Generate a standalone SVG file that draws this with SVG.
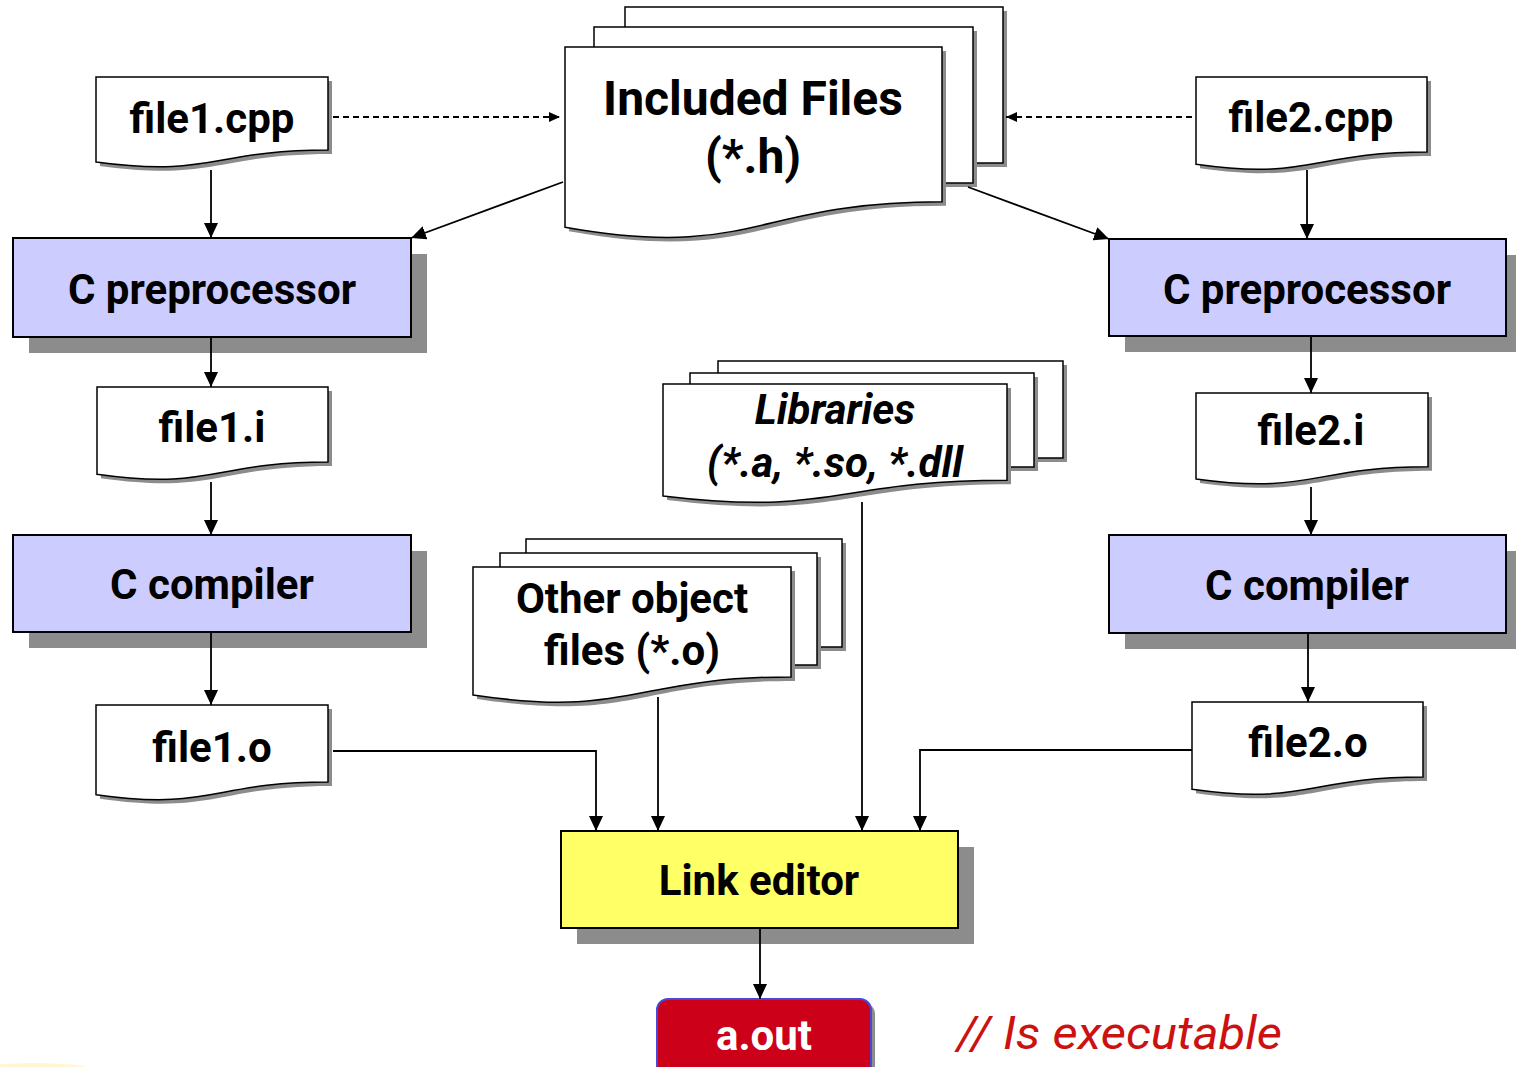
<svg xmlns="http://www.w3.org/2000/svg" width="1516" height="1067" viewBox="0 0 1516 1067">
<defs>
<style>
.doc{fill:#fff;stroke:#000;stroke-width:1.5}
.dsh{fill:#8c8c8c}
.box{stroke:#000;stroke-width:2}
.proc{fill:#ccccff}
.link{fill:#ffff66}
.bsh{fill:#8c8c8c}
.t{font-family:Roboto,"Liberation Sans",sans-serif;font-weight:bold;font-size:42px;fill:#000;text-anchor:middle}
.big{font-size:48px}
.it{font-style:italic}
.c{fill:none;stroke:#000;stroke-width:1.8}
.dash{stroke-dasharray:6 4}
</style>
<marker id="ah" markerUnits="userSpaceOnUse" markerWidth="16" markerHeight="14" refX="15" refY="7" orient="auto">
<path d="M0,0 L15,7 L0,14 Z" fill="#000"/>
</marker>
<marker id="as" markerUnits="userSpaceOnUse" markerWidth="12" markerHeight="10" refX="11" refY="5" orient="auto">
<path d="M0,0 L11,5 L0,10 Z" fill="#000"/>
</marker>
</defs>
<rect width="1516" height="1067" fill="#fff"/>
<ellipse cx="35" cy="1072" rx="65" ry="9" fill="#fff4cc" opacity="0.8"/>

<g id="file1cpp">
<path class="dsh" d="M100,81 H332 V154 C216,154 216,181.7 100,166 Z"/>
<path class="doc" d="M96,77 H328 V150 C212,150 212,177.7 96,162 Z"/>
<text class="t" x="212" y="133">file1.cpp</text>
</g>

<g id="file2cpp">
<path class="dsh" d="M1200,81 H1431 V156 C1315.5,156 1315.5,184.5 1200,168.3 Z"/>
<path class="doc" d="M1196,77 H1427 V152 C1311.5,152 1311.5,180.5 1196,164.3 Z"/>
<text class="t" x="1311" y="132">file2.cpp</text>
</g>

<g id="included">
<rect class="dsh" x="629" y="11" width="378" height="156"/>
<rect class="doc" x="625" y="7" width="378" height="156"/>
<rect class="dsh" x="598" y="31" width="379" height="156"/>
<rect class="doc" x="594" y="27" width="379" height="156"/>
<path class="dsh" d="M569,51 H946 V205.8 C757.5,205.8 757.5,264.7 569,231.3 Z"/>
<path class="doc" d="M565,47 H942 V201.8 C753.5,201.8 753.5,260.7 565,227.3 Z"/>
<text class="t big" x="753" y="115">Included Files</text>
<text class="t big" x="753" y="173">(*.h)</text>
</g>

<g id="cpp1">
<rect class="bsh" x="29" y="254" width="398" height="99"/>
<rect class="box proc" x="13" y="238" width="398" height="99"/>
<text class="t" x="212" y="304">C preprocessor</text>
</g>

<g id="cpp2">
<rect class="bsh" x="1125" y="255" width="397" height="97"/>
<rect class="box proc" x="1109" y="239" width="397" height="97"/>
<text class="t" x="1307" y="304">C preprocessor</text>
</g>

<g id="file1i">
<path class="dsh" d="M101,391 H332 V466 C216.5,466 216.5,494.5 101,478.3 Z"/>
<path class="doc" d="M97,387 H328 V462 C212.5,462 212.5,490.5 97,474.3 Z"/>
<text class="t" x="212" y="442">file1.i</text>
</g>

<g id="file2i">
<path class="dsh" d="M1200,397 H1432 V470.8 C1316,470.8 1316,498.8 1200,482.9 Z"/>
<path class="doc" d="M1196,393 H1428 V466.8 C1312,466.8 1312,494.8 1196,478.9 Z"/>
<text class="t" x="1311" y="445">file2.i</text>
</g>

<g id="libraries">
<rect class="dsh" x="722" y="365" width="345" height="97"/>
<rect class="doc" x="718" y="361" width="345" height="97"/>
<rect class="dsh" x="694" y="377" width="344" height="94"/>
<rect class="doc" x="690" y="373" width="344" height="94"/>
<path class="dsh" d="M667,388 H1011 V484.2 C839,484.2 839,520.8 667,500 Z"/>
<path class="doc" d="M663,384 H1007 V480.2 C835,480.2 835,516.8 663,496 Z"/>
<text class="t it" x="835" y="424">Libraries</text>
<text class="t it" x="835" y="477">(*.a, *.so, *.dll</text>
</g>

<g id="cc1">
<rect class="bsh" x="29" y="551" width="398" height="97"/>
<rect class="box proc" x="13" y="535" width="398" height="97"/>
<text class="t" x="212" y="599">C compiler</text>
</g>

<g id="cc2">
<rect class="bsh" x="1125" y="551" width="397" height="98"/>
<rect class="box proc" x="1109" y="535" width="397" height="98"/>
<text class="t" x="1307" y="600">C compiler</text>
</g>

<g id="otherobj">
<rect class="dsh" x="530" y="543" width="316" height="108"/>
<rect class="doc" x="526" y="539" width="316" height="108"/>
<rect class="dsh" x="504" y="557" width="317" height="112"/>
<rect class="doc" x="500" y="553" width="317" height="112"/>
<path class="dsh" d="M477,571 H795 V680.9 C636,680.9 636,722.7 477,699 Z"/>
<path class="doc" d="M473,567 H791 V676.9 C632,676.9 632,718.7 473,695 Z"/>
<text class="t" x="632" y="613">Other object</text>
<text class="t" x="632" y="665">files (*.o)</text>
</g>

<g id="file1o">
<path class="dsh" d="M100,709 H332 V786 C216,786 216,815 100,798.7 Z"/>
<path class="doc" d="M96,705 H328 V782 C212,782 212,811 96,794.7 Z"/>
<text class="t" x="212" y="762">file1.o</text>
</g>

<g id="file2o">
<path class="dsh" d="M1196,706 H1427 V781 C1311.5,781 1311.5,809.5 1196,793.3 Z"/>
<path class="doc" d="M1192,702 H1423 V777 C1307.5,777 1307.5,805.5 1192,789.3 Z"/>
<text class="t" x="1308" y="757">file2.o</text>
</g>

<g id="linkeditor">
<rect class="bsh" x="577" y="847" width="397" height="97"/>
<rect class="box link" x="561" y="831" width="397" height="97"/>
<text class="t" x="759" y="895">Link editor</text>
</g>

<g id="aout">
<rect x="661" y="1003" width="214" height="80" rx="11" fill="#8c8c8c"/>
<rect x="657" y="999" width="214" height="80" rx="11" fill="#cc0018" stroke="#4848d8" stroke-width="2"/>
<text class="t" x="764" y="1050" style="fill:#fff">a.out</text>
</g>

<g id="note">
<text x="957" y="1049" textLength="325" lengthAdjust="spacingAndGlyphs" style="font-family:Roboto,'Liberation Sans',sans-serif;font-style:italic;font-size:47px;fill:#cc1111">// Is executable</text>
</g>

<g id="connectors">
<path class="c dash" d="M333,117 H560" marker-end="url(#as)"/>
<path class="c dash" d="M1192,117 H1006" marker-end="url(#as)"/>
<path class="c" d="M563,182 L411,238" marker-end="url(#ah)"/>
<path class="c" d="M968,187 L1109,239" marker-end="url(#ah)"/>
<path class="c" d="M211,170 V238" marker-end="url(#ah)"/>
<path class="c" d="M211,338 V387" marker-end="url(#ah)"/>
<path class="c" d="M211,482 V535" marker-end="url(#ah)"/>
<path class="c" d="M211,633 V705" marker-end="url(#ah)"/>
<path class="c" d="M1307,170 V239" marker-end="url(#ah)"/>
<path class="c" d="M1311,337 V393" marker-end="url(#ah)"/>
<path class="c" d="M1311,487 V535" marker-end="url(#ah)"/>
<path class="c" d="M1308,634 V702" marker-end="url(#ah)"/>
<path class="c" d="M333,751 H596 V831" marker-end="url(#ah)"/>
<path class="c" d="M658,697 V831" marker-end="url(#ah)"/>
<path class="c" d="M862,502 V831" marker-end="url(#ah)"/>
<path class="c" d="M1192,750 H920 V831" marker-end="url(#ah)"/>
<path class="c" d="M760,929 V999" marker-end="url(#ah)"/>
</g>
</svg>
